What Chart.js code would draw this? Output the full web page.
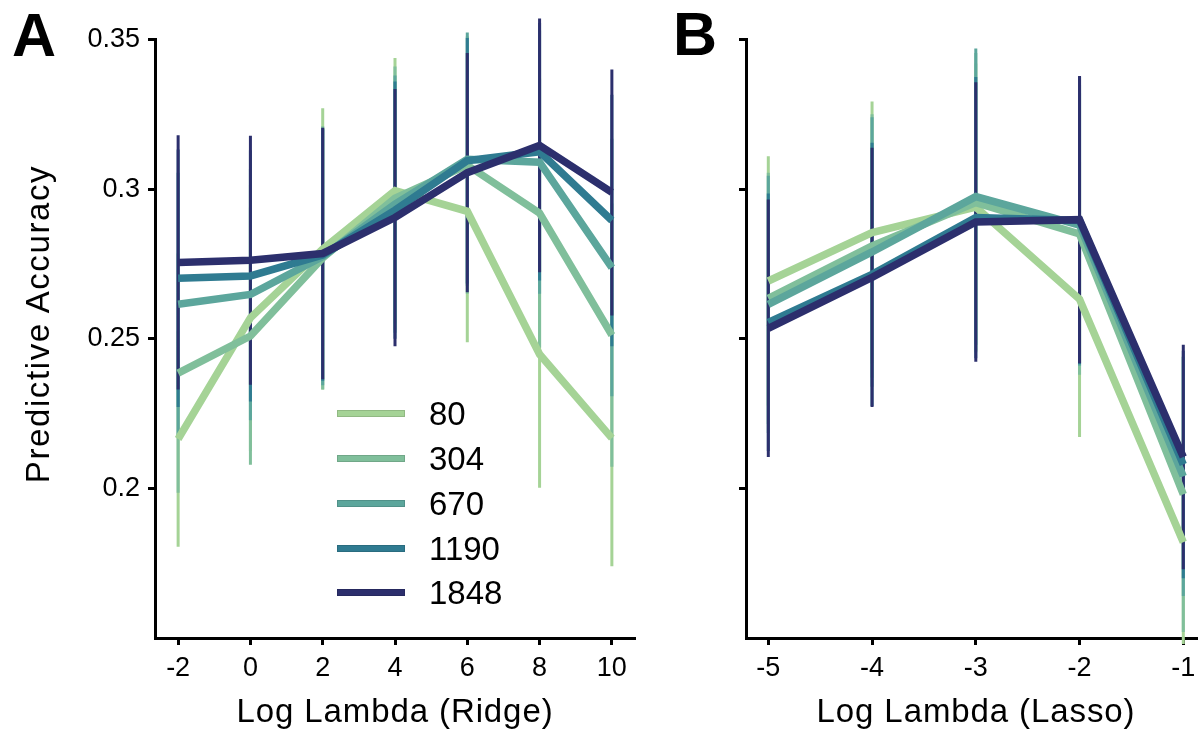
<!DOCTYPE html>
<html><head><meta charset="utf-8">
<script src="https://cdn.jsdelivr.net/npm/chart.js@4/dist/chart.umd.min.js"></script>
<style>
html,body{margin:0;padding:0;background:#fff;width:1198px;height:731px;overflow:hidden;position:relative;font-family:'Liberation Sans',Arial,sans-serif;}
canvas{position:absolute;top:0;}
#c1{left:0;width:660px;height:731px;}
#c2{left:660px;width:560px;height:731px;}
.t{position:absolute;line-height:1;color:#000;white-space:nowrap;}
.sw{position:absolute;height:7px;width:68px;left:337px;box-sizing:border-box;border:1px solid rgba(0,0,0,0.12);}
</style></head><body>
<canvas id="c1" width="660" height="731"></canvas>
<canvas id="c2" width="560" height="731"></canvas>
<div class="t" style="left:12px;top:5px;font-size:61px;font-weight:bold;">A</div>
<div class="t" style="left:673px;top:4px;font-size:61px;font-weight:bold;">B</div>
<div class="t" id="ytitle" style="left:37px;top:324px;font-size:33px;letter-spacing:1.6px;transform:translate(-50%,-50%) rotate(-90deg);">Predictive Accuracy</div>
<div class="t" style="left:95px;width:600px;text-align:center;top:694px;font-size:33px;letter-spacing:0.9px;">Log Lambda (Ridge)</div>
<div class="t" style="left:676px;width:600px;text-align:center;top:694px;font-size:33px;letter-spacing:0.9px;">Log Lambda (Lasso)</div>
<div id="legend"></div>
<script>
// ---- data ----
const sampleSizes = ['80', '304', '670', '1190', '1848'];
const seriesColors = ['#a5d396', '#80bf9b', '#5ca69c', '#2f7b91', '#2c2f6d'];

const ridgeLambdas = [-2, 0, 2, 4, 6, 8, 10];
const ridge80   = [0.2165, 0.2570, 0.2800, 0.2995, 0.2926, 0.2448, 0.2168];
const ridge304  = [0.2385, 0.2509, 0.2770, 0.2970, 0.3080, 0.2920, 0.2512];
const ridge670  = [0.2615, 0.2648, 0.2775, 0.2950, 0.3100, 0.3090, 0.2738];
const ridge1190 = [0.2702, 0.2710, 0.2780, 0.2930, 0.3095, 0.3125, 0.2895];
const ridge1848 = [0.2755, 0.2762, 0.2785, 0.2905, 0.3055, 0.3146, 0.2989];
const ridgeCi80   = [0.0360, 0.0445, 0.0470, 0.0443, 0.0438, 0.0446, 0.0428];
const ridgeCi304  = [0.0400, 0.0430, 0.0440, 0.0440, 0.0430, 0.0450, 0.0440];
const ridgeCi670  = [0.0440, 0.0420, 0.0430, 0.0430, 0.0423, 0.0440, 0.0430];
const ridgeCi1190 = [0.0430, 0.0420, 0.0420, 0.0430, 0.0410, 0.0430, 0.0420];
const ridgeCi1848 = [0.0425, 0.0416, 0.0420, 0.0430, 0.0400, 0.0424, 0.0411];

const lassoLambdas = [-5, -4, -3, -2, -1];
const lasso80   = [0.2693, 0.2855, 0.2940, 0.2632, 0.1820];
const lasso304  = [0.2635, 0.2810, 0.2955, 0.2850, 0.1980];
const lasso670  = [0.2615, 0.2790, 0.2975, 0.2880, 0.2040];
const lasso1190 = [0.2555, 0.2715, 0.2905, 0.2895, 0.2080];
const lasso1848 = [0.2535, 0.2705, 0.2890, 0.2898, 0.2105];
const lassoCi80   = [0.0417, 0.0438, 0.0480, 0.0460, 0.0340];
const lassoCi304  = [0.0420, 0.0440, 0.0500, 0.0470, 0.0460];
const lassoCi670  = [0.0430, 0.0450, 0.0495, 0.0470, 0.0400];
const lassoCi1190 = [0.0430, 0.0440, 0.0470, 0.0480, 0.0380];
const lassoCi1848 = [0.0430, 0.0433, 0.0467, 0.0480, 0.0375];

const yTicks = [0.2, 0.25, 0.3, 0.35];
const yTickLabels = ['0.2', '0.25', '0.3', '0.35'];
const ridgeTicks = [-2, 0, 2, 4, 6, 8, 10];
const lassoTicks = [-5, -4, -3, -2, -1];

// ---- build ----
function buildDatasets(lambdas, means, cis) {
  const ds = [];
  means.forEach((m, i) => {
    ds.push({
      type: 'line', label: sampleSizes[i],
      data: lambdas.map((x, j) => ({x: x, y: m[j]})),
      borderColor: seriesColors[i], backgroundColor: seriesColors[i],
      borderWidth: 7.5, pointRadius: 0, borderJoinStyle: 'miter', borderCapStyle: 'butt',
      tension: 0, fill: false, clip: false, order: 4 - i
    });
    const eb = [];
    lambdas.forEach((x, j) => {
      eb.push({x: x, y: m[j] - cis[i][j]}, {x: x, y: m[j] + cis[i][j]}, {x: x, y: null});
    });
    ds.push({
      type: 'line', label: 'ci' + sampleSizes[i], data: eb,
      borderColor: seriesColors[i], borderWidth: 3, pointRadius: 0,
      spanGaps: false, fill: false, clip: false, borderCapStyle: 'butt', order: 10 + 4 - i
    });
  });
  return ds;
}

function makeOptions(xMin, xMax, xTicks, showYLabels, padRight, yWidth) {
  const gridCfg = {display: true, drawOnChartArea: false, drawTicks: true, tickLength: 7, tickWidth: 3, tickColor: '#000'};
  const borderCfg = {display: true, color: '#000', width: 3};
  return {
    responsive: false, animation: false, events: [],
    layout: {padding: {left: 0, top: 39.5, right: padRight, bottom: 0}},
    plugins: {legend: {display: false}, tooltip: {enabled: false}},
    scales: {
      x: {
        type: 'linear', min: xMin, max: xMax,
        afterBuildTicks: s => { s.ticks = xTicks.map(v => ({value: v})); },
        afterFit: s => { s.height = 93; },
        grid: gridCfg, border: borderCfg,
        ticks: {color: '#000', font: {size: 27}, padding: 7, maxRotation: 0, autoSkip: false,
                callback: v => String(v)}
      },
      y: {
        type: 'linear', min: 0.15, max: 0.35,
        afterBuildTicks: s => { s.ticks = yTicks.map(v => ({value: v})); },
        afterFit: s => { s.width = yWidth; },
        grid: gridCfg, border: borderCfg,
        ticks: {display: showYLabels, color: '#000', font: {size: 27}, padding: 8,
                callback: v => { const k = yTicks.findIndex(t => Math.abs(t - v) < 1e-9); return k >= 0 ? yTickLabels[k] : ''; }}
      }
    }
  };
}

Chart.defaults.font.family = "'Liberation Sans', Arial, sans-serif";
Chart.defaults.color = '#000';

new Chart(document.getElementById('c1'), {
  type: 'line',
  data: {datasets: buildDatasets(ridgeLambdas,
    [ridge80, ridge304, ridge670, ridge1190, ridge1848],
    [ridgeCi80, ridgeCi304, ridgeCi670, ridgeCi1190, ridgeCi1848])},
  options: makeOptions(-2.64, 10.64, ridgeTicks, true, 25, 155)
});

new Chart(document.getElementById('c2'), {
  type: 'line',
  data: {datasets: buildDatasets(lassoLambdas,
    [lasso80, lasso304, lasso670, lasso1190, lasso1848],
    [lassoCi80, lassoCi304, lassoCi670, lassoCi1190, lassoCi1848])},
  options: makeOptions(-5.215, -0.785, lassoTicks, false, 14.4, 86)
});

// legend
const legendCenters = [413, 458, 503, 548, 592];
const leg = document.getElementById('legend');
sampleSizes.forEach((lab, i) => {
  const sw = document.createElement('div');
  sw.className = 'sw';
  sw.style.top = (legendCenters[i] - 3.5) + 'px';
  sw.style.background = seriesColors[i];
  leg.appendChild(sw);
  const tx = document.createElement('div');
  tx.className = 't';
  tx.style.left = '429px';
  tx.style.top = (legendCenters[i] - 16.1) + 'px';
  tx.style.fontSize = '33px';
  tx.textContent = lab;
  leg.appendChild(tx);
});
</script>
</body></html>
